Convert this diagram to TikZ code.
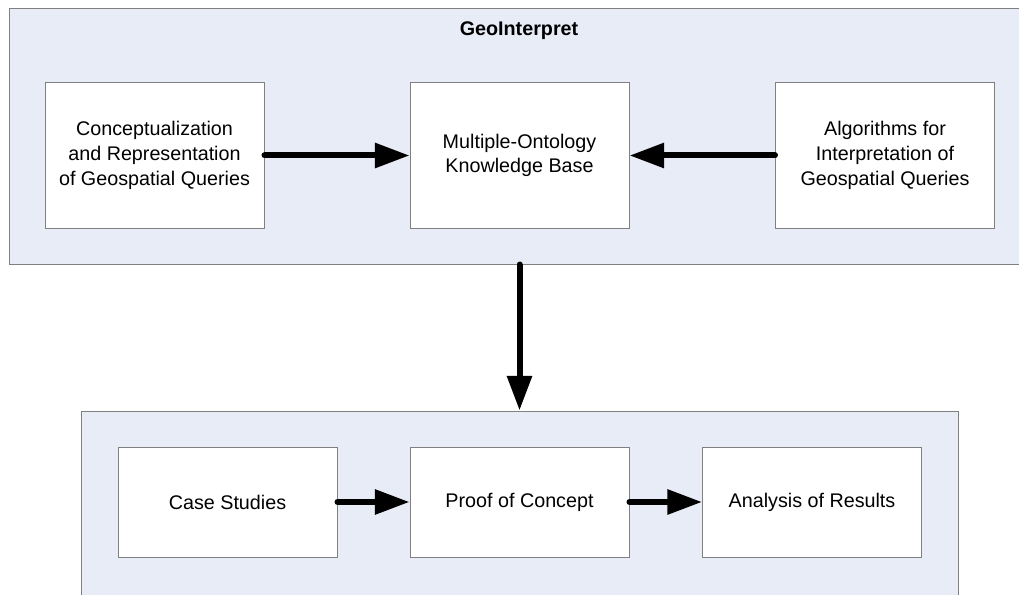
\documentclass[tikz,border=0pt]{standalone}
\usepackage{fontspec}
\setmainfont{Liberation Sans}
\usetikzlibrary{arrows.meta}
\definecolor{panelfill}{HTML}{E8ECF6}
\definecolor{panelline}{HTML}{808080}
\begin{document}
\begin{tikzpicture}[x=0.75pt,y=-0.75pt,
    panel/.style={draw=panelline,fill=panelfill,line width=0.75pt,inner sep=0pt},
    box/.style={draw=panelline,fill=white,line width=0.75pt,align=center,
      font=\fontsize{14.8}{18.5}\selectfont,minimum width=164.25pt},
    flow/.style={line width=4.5pt,line cap=round,-{Triangle[length=26pt,width=18pt]}}]
  \useasboundingbox (0,0) rectangle (1019,595);
  % containers
  \node (geo) at (517,136.5) [panel,minimum width=762pt,minimum height=191.25pt] {};
  \node (lower) at (519.5,513) [panel,minimum width=657.75pt,minimum height=153pt] {};
  \node (title) at (519,31) [font=\bfseries\fontsize{14.8}{16}\selectfont] {GeoInterpret};

  \node (concept) at (154.5,155.5) [box,minimum height=108.75pt] {Conceptualization\\and Representation\\of Geospatial Queries};
  \node (kb) at (519.5,155.5) [box,minimum height=108.75pt] {Multiple-Ontology\\Knowledge Base};
  \node (algo) at (885,155.5) [box,minimum height=108.75pt] {Algorithms for\\Interpretation of\\Geospatial Queries};

  \node (cases) at (227.5,502) [box,minimum height=82.5pt] {Case Studies};
  \node (proof) at (519.5,502) [box,minimum height=82.5pt] {Proof of Concept};
  \node (results) at (812,502) [box,minimum height=82.5pt] {Analysis of Results};

  \draw[flow] (concept) -- (kb);
  \draw[flow] (algo) -- (kb);
  \draw[flow] (kb |- geo.south) -- (kb |- lower.north);
  \draw[flow] (cases) -- (proof);
  \draw[flow] (proof) -- (results);
\end{tikzpicture}
\end{document}
